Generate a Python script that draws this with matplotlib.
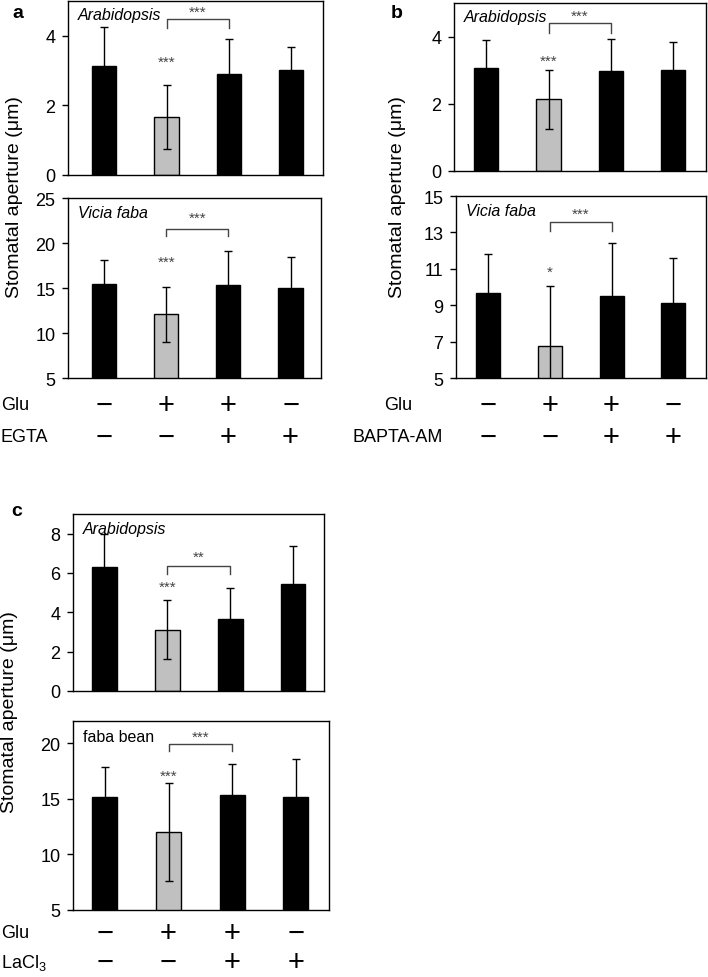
import matplotlib
matplotlib.use('Agg')
import matplotlib.pyplot as plt
import matplotlib.transforms as mtransforms
import numpy as np

plt.rcParams['font.family'] = ['Liberation Sans', 'DejaVu Sans']
plt.rcParams['mathtext.default'] = 'regular'

W, H = 708, 978

# data (mean, error)
a_arab_mean = [3.14, 1.67, 2.90, 3.03]
a_arab_err = [1.12, 0.93, 1.00, 0.65]
a_vicia_mean = [15.44, 12.10, 15.37, 15.00]
a_vicia_err = [2.63, 3.05, 3.70, 3.40]

b_arab_mean = [3.07, 2.14, 2.98, 3.00]
b_arab_err = [0.84, 0.88, 0.95, 0.83]
b_vicia_mean = [9.65, 6.76, 9.52, 9.10]
b_vicia_err = [2.16, 3.30, 2.90, 2.48]

c_arab_mean = [6.28, 3.12, 3.67, 5.43]
c_arab_err = [1.71, 1.50, 1.55, 1.93]
c_faba_mean = [15.20, 12.00, 15.34, 15.20]
c_faba_err = [2.70, 4.42, 2.76, 3.35]

glu = ['−', '+', '+', '−']
blocker = ['−', '−', '+', '+']

fig = plt.figure(figsize=(W / 100, H / 100), dpi=100)


def panel(box, mean, err, ylim, yticks, species, italic, stars, bracket, xlim):
    l, r, t, b = box
    ax = fig.add_axes([l / W, 1 - b / H, (r - l) / W, (b - t) / H])
    x = np.arange(4)
    colors = ['black', '#c0c0c0', 'black', 'black']
    ax.bar(x, mean, width=0.39, color=colors, edgecolor='black', linewidth=1, zorder=2)
    ax.errorbar(x, mean, yerr=err, fmt='none', ecolor='black', elinewidth=1,
                capsize=3, capthick=1, zorder=3)
    ax.set_xlim(*xlim)
    ax.set_ylim(*ylim)
    ax.set_yticks(yticks)
    ax.set_xticks([])
    ax.tick_params(axis='y', labelsize=13, length=4, width=1, pad=5, direction='out')
    for s in ax.spines.values():
        s.set_linewidth(1)
    ax.text(0.04, 0.92, species, transform=ax.transAxes, fontsize=11.5,
            style='italic' if italic else 'normal', va='center', ha='left')
    # stars above the Glu bar
    ax.text(1, stars[1], stars[0], ha='center', va='center', fontsize=11, color='#444444')
    # bracket between Glu and Glu+blocker
    ytop, yleg, ystar, lab = bracket
    ax.plot([1, 1, 2, 2], [yleg, ytop, ytop, yleg], color='#444444', lw=1)
    ax.text(1.5, ystar, lab, ha='center', va='center', fontsize=11, color='#444444')
    return ax


ax_a1 = panel((68, 323, 2, 176), a_arab_mean, a_arab_err, (0, 5), [0, 2, 4],
              'Arabidopsis', True, ('***', 3.25), (4.48, 4.22, 4.7, '***'), (-0.58, 3.51))
ax_a2 = panel((68, 321, 199, 379), a_vicia_mean, a_vicia_err, (5, 25), [5, 10, 15, 20, 25],
              'Vicia faba', True, ('***', 17.9), (21.6, 20.8, 22.8, '***'), (-0.58, 3.49))
ax_b1 = panel((454, 706, 4, 172), b_arab_mean, b_arab_err, (0, 5), [0, 2, 4],
              'Arabidopsis', True, ('***', 3.28), (4.39, 4.12, 4.62, '***'), (-0.52, 3.53))
ax_b2 = panel((456, 706, 197, 379), b_vicia_mean, b_vicia_err, (5, 15), [5, 7, 9, 11, 13, 15],
              'Vicia faba', True, ('*', 10.85), (13.59, 13.08, 14.05, '***'), (-0.52, 3.53))
ax_c1 = panel((73, 324, 515, 692), c_arab_mean, c_arab_err, (0, 9), [0, 2, 4, 6, 8],
              'Arabidopsis', True, ('***', 5.3), (6.37, 5.97, 6.85, '**'), (-0.5, 3.49))
ax_c2 = panel((73, 329, 722, 911), c_faba_mean, c_faba_err, (5, 22), [5, 10, 15, 20],
              'faba bean', False, ('***', 17.05), (19.96, 19.3, 20.6, '***'), (-0.5, 3.52))


def treatment_rows(ax, y1, y2, name, label_x, label_ha):
    tr = mtransforms.blended_transform_factory(ax.transData, fig.transFigure)
    for i in range(4):
        fig.text(i, 1 - y1 / H, glu[i], transform=tr, ha='center', va='center', fontsize=21)
        fig.text(i, 1 - y2 / H, blocker[i], transform=tr, ha='center', va='center', fontsize=21)
    fig.text(label_x / W, 1 - y1 / H, 'Glu', ha=label_ha, va='center', fontsize=13)
    fig.text(label_x / W, 1 - y2 / H, name, ha=label_ha, va='center', fontsize=13)


treatment_rows(ax_a2, 406, 438, 'EGTA', 1, 'left')
treatment_rows(ax_b2, 406, 438, 'BAPTA-AM', 398, 'center')
treatment_rows(ax_c2, 934, 963, 'LaCl$_3$', 1, 'left')

ylab = 'Stomatal aperture (μm)'
fig.text(15 / W, 1 - 197 / H, ylab, rotation=90, ha='center', va='center', fontsize=14)
fig.text(398 / W, 1 - 197 / H, ylab, rotation=90, ha='center', va='center', fontsize=14)
fig.text(10 / W, 1 - 712 / H, ylab, rotation=90, ha='center', va='center', fontsize=14)

fig.text(18 / W, 1 - 14 / H, 'a', fontsize=14, fontweight='bold', ha='center', va='center')
fig.text(397 / W, 1 - 13 / H, 'b', fontsize=14, fontweight='bold', ha='center', va='center')
fig.text(17 / W, 1 - 512 / H, 'c', fontsize=14, fontweight='bold', ha='center', va='center')

plt.savefig('out.png', dpi=100)
